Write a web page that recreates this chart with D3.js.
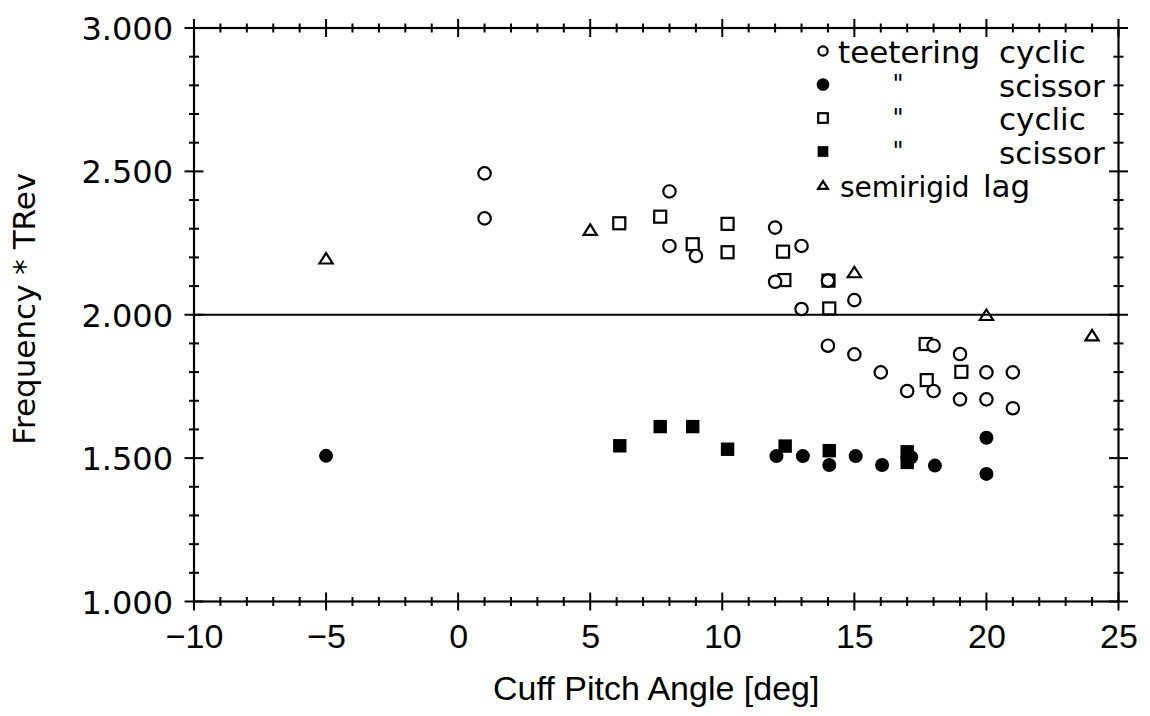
<!DOCTYPE html>
<html>
<head>
<meta charset="utf-8">
<script src="https://cdn.jsdelivr.net/npm/d3@7"></script>
<style>
  html, body { margin: 0; padding: 0; background: #fff; }
  svg { display: block; }
</style>
</head>
<body>
<svg id="chart" width="1150" height="716"></svg>
<script>
// Cuff pitch angle [deg] vs. non-dimensional frequency for several rotor/mode types
const teeteringCyclicAngle = [1, 1, 8, 12, 8, 9, 13, 12, 14, 13, 15, 14, 15, 16, 17, 18, 18, 19, 19, 20, 20, 21, 21];
const teeteringCyclicFreq  = [2.493, 2.336, 2.43, 2.304, 2.240, 2.205, 2.240, 2.115, 2.119, 2.020, 2.051, 1.892, 1.862, 1.799, 1.734, 1.734, 1.892, 1.863, 1.705, 1.799, 1.705, 1.799, 1.674];

const teeteringScissorAngle = [-5, 12.05, 13.05, 14.05, 15.05, 16.05, 17.15, 18.05, 20, 20];
const teeteringScissorFreq  = [1.508, 1.507, 1.507, 1.476, 1.507, 1.476, 1.503, 1.474, 1.571, 1.445];

const squareCyclicAngle = [6.1, 7.65, 8.88, 10.2, 10.2, 12.3, 12.35, 14.02, 14.05, 17.7, 17.74, 19.05];
const squareCyclicFreq  = [2.319, 2.342, 2.246, 2.317, 2.218, 2.220, 2.121, 2.119, 2.022, 1.898, 1.772, 1.801];

const squareScissorAngle = [6.12, 7.65, 8.88, 10.2, 12.38, 14.05, 17.0, 17.0];
const squareScissorFreq  = [1.543, 1.610, 1.610, 1.531, 1.542, 1.526, 1.522, 1.485];

const semirigidLagAngle = [-5, 5, 15, 20, 24];
const semirigidLagFreq  = [2.197, 2.297, 2.149, 2.0, 1.929];

const xTickValues = [-10, -5, 0, 5, 10, 15, 20, 25];
const yTickValues = [1.0, 1.5, 2.0, 2.5, 3.0];
const referenceFreq = 2.0;

const legendMarkers = ["circleOpen", "circleFilled", "squareOpen", "squareFilled", "triangleOpen"];
const legendRotor   = ["teetering", "\"", "\"", "\"", "semirigid"];
const legendMode    = ["cyclic", "scissor", "cyclic", "scissor", "lag"];

const xAxisTitle = "Cuff Pitch Angle [deg]";
const yAxisTitle = "Frequency * TRev";

// ---------------------------------------------------------------------------
const svg = d3.select("#chart");
const plot = { left: 194, right: 1118.5, top: 28, bottom: 601.5 };

const x = d3.scaleLinear().domain([-10, 25]).range([plot.left, plot.right]);
const y = d3.scaleLinear().domain([1, 3]).range([plot.bottom, plot.top]);

const ink = "#000";
const stroke = 2.2;

// Frame
svg.append("rect")
  .attr("x", plot.left).attr("y", plot.top)
  .attr("width", plot.right - plot.left).attr("height", plot.bottom - plot.top)
  .attr("fill", "none").attr("stroke", ink).attr("stroke-width", stroke);

// Reference line at 2.0
svg.append("line")
  .attr("x1", plot.left).attr("x2", plot.right)
  .attr("y1", y(referenceFreq)).attr("y2", y(referenceFreq))
  .attr("stroke", ink).attr("stroke-width", stroke);

// Crossing tick marks on all four sides
const ticks = svg.append("g").attr("stroke", ink).attr("stroke-width", 2);
const xMinor = d3.range(-10, 25.001, 1);
const yMinor = d3.range(10, 30.001, 1).map(v => v / 10);
const isMajorX = v => Math.abs(v % 5) < 1e-6;
const isMajorY = v => Math.abs((v * 10) % 5) < 1e-6;

[plot.bottom, plot.top].forEach(yy => {
  ticks.selectAll(null).data(xMinor).enter().append("line")
    .attr("x1", d => x(d)).attr("x2", d => x(d))
    .attr("y1", d => yy - (isMajorX(d) ? 9 : 4.5))
    .attr("y2", d => yy + (isMajorX(d) ? 9 : 4.5));
});
[plot.left, plot.right].forEach(xx => {
  ticks.selectAll(null).data(yMinor).enter().append("line")
    .attr("y1", d => y(d)).attr("y2", d => y(d))
    .attr("x1", d => xx - (isMajorY(d) ? 9.5 : 5))
    .attr("x2", d => xx + (isMajorY(d) ? 9.5 : 5));
});

// Axis labels through d3 axes (tick lines suppressed; drawn above)
const xAxis = svg.append("g")
  .attr("transform", `translate(0,${plot.bottom})`)
  .call(d3.axisBottom(x).tickValues(xTickValues).tickSize(0).tickPadding(0)
    .tickFormat(d => d < 0 ? "\u2212" + Math.abs(d) : String(d)));
xAxis.select(".domain").remove();
xAxis.selectAll("text")
  .attr("dy", null).attr("y", 46)
  .attr("fill", ink)
  .style("font-family", "'Liberation Sans', Arial, sans-serif")
  .style("font-size", "34px");

const yAxis = svg.append("g")
  .attr("transform", `translate(${plot.left},0)`)
  .call(d3.axisLeft(y).tickValues(yTickValues).tickSize(0).tickPadding(21)
    .tickFormat(d3.format(".3f")));
yAxis.select(".domain").remove();
yAxis.selectAll("text")
  .attr("dy", "0.36em")
  .attr("fill", ink)
  .style("font-family", "'DejaVu Sans', sans-serif")
  .style("font-size", "32px");

// Axis titles
svg.append("text")
  .attr("x", (plot.left + plot.right) / 2).attr("y", 700)
  .attr("text-anchor", "middle").attr("fill", ink)
  .style("font-family", "'Liberation Sans', Arial, sans-serif")
  .style("font-size", "34px")
  .text(xAxisTitle);

svg.append("text")
  .attr("transform", `translate(35,${(plot.top + plot.bottom) / 2 - 6}) rotate(-90)`)
  .attr("text-anchor", "middle").attr("fill", ink)
  .style("font-family", "'DejaVu Sans', sans-serif")
  .style("font-size", "31px")
  .text(yAxisTitle);

// Marker drawing
function drawMarker(g, kind, cx, cy, s) {
  switch (kind) {
    case "circleOpen":
      g.append("circle").attr("cx", cx).attr("cy", cy).attr("r", 6.2 * s)
        .attr("fill", "#fff").attr("stroke", ink).attr("stroke-width", stroke);
      break;
    case "circleFilled":
      g.append("circle").attr("cx", cx).attr("cy", cy).attr("r", 7 * s)
        .attr("fill", ink);
      break;
    case "squareOpen": {
      const h = 6 * s;
      g.append("rect").attr("x", cx - h).attr("y", cy - h).attr("width", 2 * h).attr("height", 2 * h)
        .attr("fill", "none").attr("stroke", ink).attr("stroke-width", stroke);
      break;
    }
    case "squareFilled": {
      const h = 6.7 * s;
      g.append("rect").attr("x", cx - h).attr("y", cy - h).attr("width", 2 * h).attr("height", 2 * h)
        .attr("fill", ink);
      break;
    }
    case "triangleOpen": {
      const w = 6.6 * s, ht = 10.5 * s;
      const p = d3.path();
      p.moveTo(cx, cy - ht / 2);
      p.lineTo(cx + w, cy + ht / 2);
      p.lineTo(cx - w, cy + ht / 2);
      p.closePath();
      g.append("path").attr("d", p.toString())
        .attr("fill", "none").attr("stroke", ink).attr("stroke-width", stroke)
        .attr("stroke-linejoin", "miter");
      break;
    }
  }
}

const series = [
  { kind: "squareOpen",   xs: squareCyclicAngle,      ys: squareCyclicFreq },
  { kind: "circleOpen",   xs: teeteringCyclicAngle,   ys: teeteringCyclicFreq },
  { kind: "triangleOpen", xs: semirigidLagAngle,      ys: semirigidLagFreq },
  { kind: "squareFilled", xs: squareScissorAngle,     ys: squareScissorFreq },
  { kind: "circleFilled", xs: teeteringScissorAngle,  ys: teeteringScissorFreq }
];

const marks = svg.append("g");
series.forEach(sr => {
  sr.xs.forEach((v, i) => drawMarker(marks, sr.kind, x(v), y(sr.ys[i]), 1));
});

// Legend
const legend = svg.append("g")
  .attr("fill", ink)
  .style("font-family", "'DejaVu Sans', sans-serif")
  .style("font-size", "31px");
const legendScale = [0.75, 0.9, 0.8, 0.8, 0.75];
legendMarkers.forEach((k, i) => {
  const base = 63 + i * 33.5;
  drawMarker(legend, k, 823, base - 12, legendScale[i]);
  const ditto = i > 0 && i < 4;
  legend.append("text")
    .attr("x", ditto ? 898 : (i === 0 ? 838 : 840))
    .attr("y", ditto ? base - 4.5 : base)
    .attr("text-anchor", ditto ? "middle" : "start")
    .style("font-size", ditto ? "24px" : (i === 4 ? "28px" : "31px"))
    .text(legendRotor[i]);
  legend.append("text")
    .attr("x", i === 4 ? 983 : 999).attr("y", base)
    .text(legendMode[i]);
});
</script>
</body>
</html>
